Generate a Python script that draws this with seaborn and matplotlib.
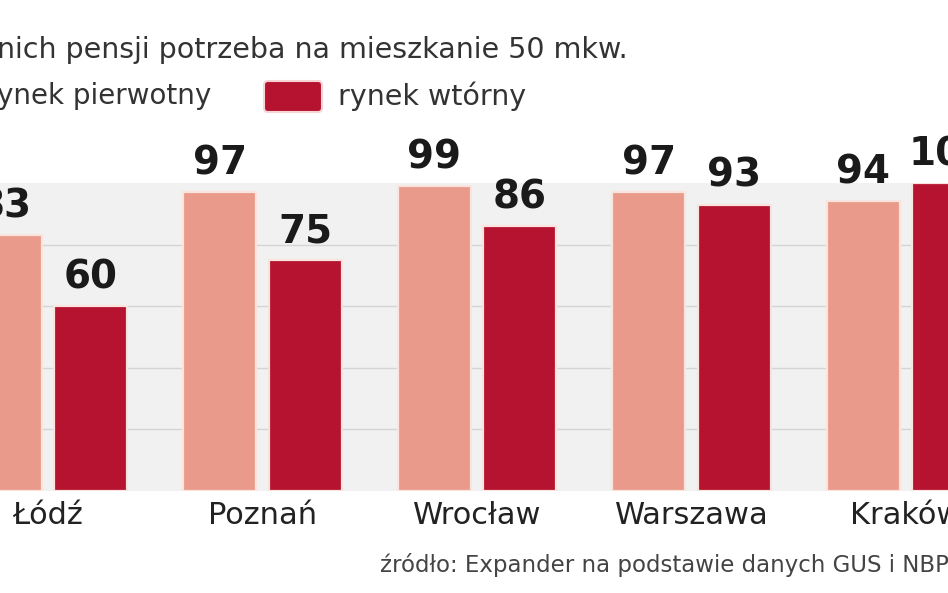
import matplotlib
matplotlib.use("Agg")
import matplotlib.pyplot as plt
import seaborn as sns
import pandas as pd
from matplotlib.patches import FancyBboxPatch

cities = ["Łódź", "Poznań", "Wrocław", "Warszawa", "Kraków"]
pierwotny = [83, 97, 99, 97, 94]
wtorny = [60, 75, 86, 93, 100]
series = ["rynek pierwotny", "rynek wtórny"]
title_text = "nich pensji potrzeba na mieszkanie 50 mkw."
legend_first = "ynek pierwotny"
source_text = "źródło: Expander na podstawie danych GUS i NBP"

c_pier = "#E99A8A"
c_wt = "#B5132F"

df = pd.DataFrame({
    "miasto": cities * 2,
    "rynek": [series[0]] * len(cities) + [series[1]] * len(cities),
    "liczba": pierwotny + wtorny,
})

sns.set_theme(style="white")
plt.rcParams["font.family"] = ["DejaVu Sans"]

fig = plt.figure(figsize=(9.48, 5.93), dpi=100)
ax = fig.add_axes([0, 0.172, 1, 0.5194])
ax.set_facecolor("#F1F1F2")

sns.barplot(data=df, x="miasto", y="liczba", hue="rynek", order=cities,
            hue_order=series, palette=[c_pier, c_wt], saturation=1,
            width=0.8, gap=0.15,
            edgecolor="#FBE3DE", linewidth=1.6, ax=ax, legend=False, zorder=3)

ax.set_xlim(-0.224, 4.196)
ax.set_ylim(0, 100)
ax.set_yticks([20, 40, 60, 80])
ax.set_yticklabels([])
ax.yaxis.grid(True, color="#D4D4D6", linewidth=1.0, zorder=0)
ax.set_axisbelow(True)
for s in ax.spines.values():
    s.set_visible(False)
ax.set_xlabel("")
ax.set_ylabel("")
ax.tick_params(axis="x", length=0, pad=7, labelsize=22, labelcolor="#222222")
ax.tick_params(axis="y", length=0)

for cont in ax.containers:
    texts = ax.bar_label(cont, padding=7, fontsize=28, fontweight="bold",
                         color="#1a1a1a")
    for t in texts:
        t.set_annotation_clip(False)

fig.text(-0.003, 0.915, title_text, fontsize=20.5, color="#333333",
         va="center", ha="left")
fig.text(-0.003, 0.838, legend_first, fontsize=20, color="#333333",
         va="center", ha="left")
legend_patch = FancyBboxPatch((264, 593 - 112), 58, 31,
                              boxstyle="round,pad=0,rounding_size=4",
                              transform=None, facecolor=c_wt,
                              edgecolor="#F5D5D5", linewidth=1.5)
fig.patches.append(legend_patch)
fig.text(338 / 948, 0.838, series[1], fontsize=20.5, color="#333333",
         va="center", ha="left")
fig.text(380 / 948, 1 - 565 / 593, source_text, fontsize=16.5,
         color="#444444", va="center", ha="left")

fig.savefig("out.png", dpi=100)
